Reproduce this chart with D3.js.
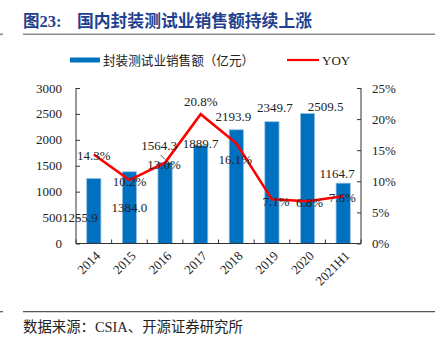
<!DOCTYPE html>
<html><head><meta charset="utf-8">
<script src="https://cdn.jsdelivr.net/npm/d3@7"></script>
<style>
body{margin:0;background:#fff;}
svg{display:block;}
text{font-family:"Liberation Serif","Times New Roman","Noto Sans CJK SC",serif;}
</style></head>
<body>
<svg id="chart" width="435" height="346"></svg>
<script>
const categories = ["2014","2015","2016","2017","2018","2019","2020","2021H1"];
const salesValues = [1255.9,1384.0,1564.3,1889.7,2193.9,2349.7,2509.5,1164.7];
const yoyValues = [14.3,10.2,13.0,20.8,16.1,7.1,6.8,7.6];
const leftTicks = [0,500,1000,1500,2000,2500,3000];
const rightTicks = [0,5,10,15,20,25];
const titleLabel = "图23:";
const titleText = "国内封装测试业销售额持续上涨";
const legendBarText = "封装测试业销售额（亿元）";
const legendLineText = "YOY";
const sourceText = "数据来源：CSIA、开源证券研究所";

// label placement offsets (layout, not data)
const barLabelOffsets = [[-14,39],[0,36],[-6,-17],[0,-2],[-3,-13],[3,-14],[18,-7],[-6,-10]];
const yoyLabelOffsets = [[0,1],[0,1.5],[-1,1.5],[0,-12.5],[-1,16.5],[4,2],[2,1],[-1,1]];

const svg = d3.select("#chart");
const pL = 76, pR = 361, pT = 88, pB = 243.5;

const x = d3.scaleBand().domain(categories).range([pL,pR]).paddingInner(0.6).paddingOuter(0.3);
const yL = d3.scaleLinear().domain([0,3000]).range([pB,pT]);
const yR = d3.scaleLinear().domain([0,25]).range([pB,pT]);

// title
svg.append("text").attr("x",23).attr("y",27).attr("font-size",16.5).attr("font-weight","bold")
  .attr("fill","#1F3F8F").text(titleLabel);
svg.append("text").attr("x",77).attr("y",27).attr("font-size",16.8).attr("font-weight","bold")
  .attr("fill","#1F3F8F").text(titleText);
svg.append("line").attr("x1",23).attr("x2",435).attr("y1",34.3).attr("y2",34.3).attr("stroke","#8c8c8c").attr("stroke-width",1.6);
svg.append("line").attr("x1",0).attr("x2",3).attr("y1",34.3).attr("y2",34.3).attr("stroke","#8c8c8c").attr("stroke-width",1.6);

// legend
svg.append("rect").attr("x",70).attr("y",57.5).attr("width",30).attr("height",5).attr("fill","#0070C0");
svg.append("text").attr("x",103).attr("y",64.5).attr("font-size",12.6).attr("fill","#222").text(legendBarText);
svg.append("line").attr("x1",287).attr("x2",319).attr("y1",60).attr("y2",60).attr("stroke","#FF0000").attr("stroke-width",2.2);
svg.append("text").attr("x",322).attr("y",64.5).attr("font-size",13).attr("fill","#222").text(legendLineText);

// bars
svg.append("g").selectAll("rect").data(salesValues).join("rect")
  .attr("x",(d,i)=>x(categories[i])).attr("width",x.bandwidth())
  .attr("y",d=>yL(d)).attr("height",d=>pB-yL(d))
  .attr("fill","#0070C0").attr("stroke","#9DC3E6").attr("stroke-width",0.8);

// axes
const axisColor = "#333";
const gL = svg.append("g").attr("transform",`translate(${pL},0)`)
  .call(d3.axisRight(yL).tickValues(leftTicks).tickSize(4).tickFormat(""));
const gR = svg.append("g").attr("transform",`translate(${pR},0)`)
  .call(d3.axisLeft(yR).tickValues(rightTicks).tickSize(4).tickFormat(""));
[gL,gR].forEach(g=>{g.select(".domain").attr("stroke",axisColor).attr("d",`M0,${pT}V${pB}`);
  g.selectAll(".tick line").attr("stroke",axisColor);});

svg.append("g").selectAll("text").data(leftTicks).join("text")
  .attr("x",62).attr("y",d=>yL(d)).attr("dy","0.35em").attr("text-anchor","end")
  .attr("font-size",13).attr("fill","#222").text(d=>d);
svg.append("g").selectAll("text").data(rightTicks).join("text")
  .attr("x",372).attr("y",d=>yR(d)).attr("dy","0.35em").attr("text-anchor","start")
  .attr("font-size",13).attr("fill","#222").text(d=>d+"%");

// x axis
const boundaries = d3.range(categories.length+1).map(i=>pL + i*(pR-pL)/categories.length);
const gX = svg.append("g");
gX.append("line").attr("x1",pL).attr("x2",pR).attr("y1",pB).attr("y2",pB).attr("stroke",axisColor);
gX.selectAll("line.t").data(boundaries).join("line").attr("class","t")
  .attr("x1",d=>d).attr("x2",d=>d).attr("y1",pB).attr("y2",pB-4).attr("stroke",axisColor);
gX.selectAll("text").data(categories).join("text")
  .attr("transform",d=>`translate(${x(d)+x.bandwidth()/2+4},${pB+10}) rotate(-45)`)
  .attr("text-anchor","end").attr("dy","0.35em").attr("font-size",13).attr("fill","#222").text(d=>d);

// line
const cx = i => x(categories[i]) + x.bandwidth()/2;
const line = d3.line().x((d,i)=>cx(i)).y(d=>yR(d));
svg.append("path").datum(yoyValues).attr("d",line).attr("fill","none")
  .attr("stroke","#FF0000").attr("stroke-width",2.6).attr("stroke-linejoin","miter");

// bar labels
svg.append("g").selectAll("text").data(salesValues).join("text")
  .attr("x",(d,i)=>cx(i)+barLabelOffsets[i][0]).attr("y",(d,i)=>yL(d)+barLabelOffsets[i][1])
  .attr("dy","0.35em").attr("text-anchor","middle").attr("font-size",13).attr("fill","#222")
  .text(d=>d.toFixed(1));
// leader line for 2016 label
svg.append("line").attr("x1",cx(2)-4.5).attr("y1",yL(salesValues[2])-7.5)
  .attr("x2",cx(2)).attr("y2",yL(salesValues[2])-3).attr("stroke","#222").attr("stroke-width",0.8);

// yoy labels
svg.append("g").selectAll("text").data(yoyValues).join("text")
  .attr("x",(d,i)=>cx(i)+yoyLabelOffsets[i][0]).attr("y",(d,i)=>yR(d)+yoyLabelOffsets[i][1])
  .attr("dy","0.35em").attr("text-anchor","middle").attr("font-size",13).attr("fill","#222")
  .text(d=>d.toFixed(1)+"%");

// footer
svg.append("line").attr("x1",23).attr("x2",435).attr("y1",311.7).attr("y2",311.7).attr("stroke","#555").attr("stroke-width",1.2);
svg.append("line").attr("x1",0).attr("x2",3).attr("y1",311.7).attr("y2",311.7).attr("stroke","#555").attr("stroke-width",1.2);
svg.append("text").attr("x",23).attr("y",332).attr("font-size",14.4).attr("fill","#222").text(sourceText);
</script>
</body></html>
